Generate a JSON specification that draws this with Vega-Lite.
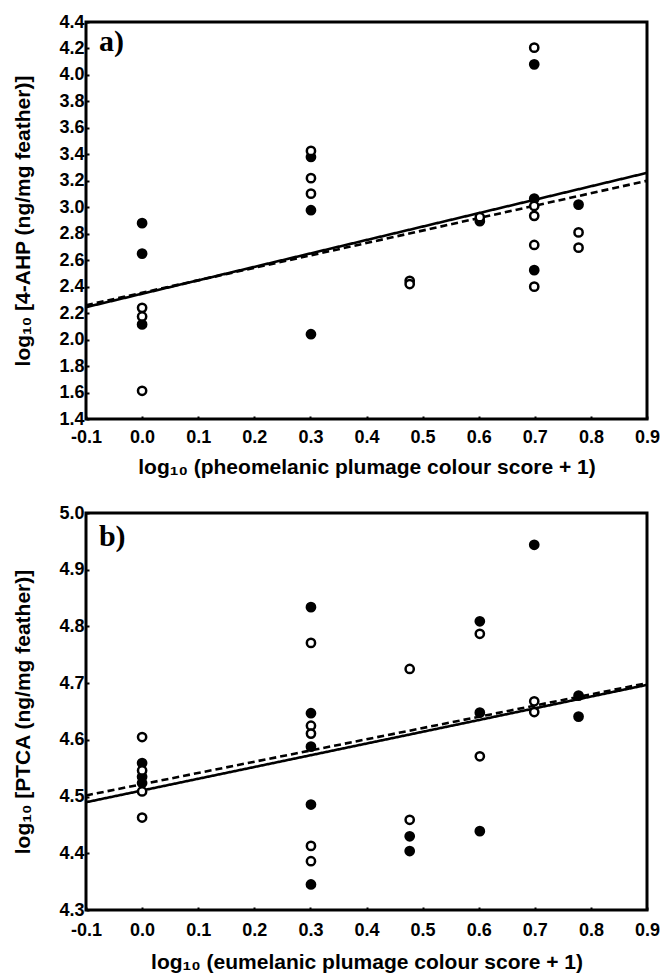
{
  "$schema": "https://vega.github.io/schema/vega-lite/v6.json",
  "background": "white",
  "padding": {"left": 11, "top": 11, "right": 10, "bottom": 5},
  "spacing": 23,
  "datasets": {
    "a_points": [
      {"x": 0, "y": 2.88, "group": "filled"},
      {"x": 0, "y": 2.65, "group": "filled"},
      {"x": 0, "y": 2.115, "group": "filled"},
      {"x": 0.301, "y": 3.38, "group": "filled"},
      {"x": 0.301, "y": 2.978, "group": "filled"},
      {"x": 0.301, "y": 2.041, "group": "filled"},
      {"x": 0.602, "y": 2.895, "group": "filled"},
      {"x": 0.699, "y": 4.08, "group": "filled"},
      {"x": 0.699, "y": 3.065, "group": "filled"},
      {"x": 0.699, "y": 2.525, "group": "filled"},
      {"x": 0.778, "y": 3.02, "group": "filled"},
      {"x": 0, "y": 2.24, "group": "open"},
      {"x": 0, "y": 2.175, "group": "open"},
      {"x": 0, "y": 1.613, "group": "open"},
      {"x": 0.301, "y": 3.426, "group": "open"},
      {"x": 0.301, "y": 3.22, "group": "open"},
      {"x": 0.301, "y": 3.103, "group": "open"},
      {"x": 0.477, "y": 2.444, "group": "open"},
      {"x": 0.477, "y": 2.42, "group": "open"},
      {"x": 0.602, "y": 2.925, "group": "open"},
      {"x": 0.699, "y": 4.206, "group": "open"},
      {"x": 0.699, "y": 3.01, "group": "open"},
      {"x": 0.699, "y": 2.935, "group": "open"},
      {"x": 0.699, "y": 2.715, "group": "open"},
      {"x": 0.699, "y": 2.4, "group": "open"},
      {"x": 0.778, "y": 2.81, "group": "open"},
      {"x": 0.778, "y": 2.695, "group": "open"}
    ],
    "a_lines": [
      {"x": -0.1, "y": 2.245, "fit": "solid"},
      {"x": 0.9, "y": 3.26, "fit": "solid"},
      {"x": -0.1, "y": 2.26, "fit": "dashed"},
      {"x": 0.9, "y": 3.2, "fit": "dashed"}
    ],
    "b_points": [
      {"x": 0, "y": 4.559, "group": "filled"},
      {"x": 0, "y": 4.535, "group": "filled"},
      {"x": 0, "y": 4.524, "group": "filled"},
      {"x": 0.301, "y": 4.834, "group": "filled"},
      {"x": 0.301, "y": 4.647, "group": "filled"},
      {"x": 0.301, "y": 4.588, "group": "filled"},
      {"x": 0.301, "y": 4.486, "group": "filled"},
      {"x": 0.301, "y": 4.345, "group": "filled"},
      {"x": 0.477, "y": 4.43, "group": "filled"},
      {"x": 0.477, "y": 4.404, "group": "filled"},
      {"x": 0.602, "y": 4.809, "group": "filled"},
      {"x": 0.602, "y": 4.648, "group": "filled"},
      {"x": 0.602, "y": 4.439, "group": "filled"},
      {"x": 0.699, "y": 4.944, "group": "filled"},
      {"x": 0.778, "y": 4.678, "group": "filled"},
      {"x": 0.778, "y": 4.641, "group": "filled"},
      {"x": 0, "y": 4.605, "group": "open"},
      {"x": 0, "y": 4.546, "group": "open"},
      {"x": 0, "y": 4.509, "group": "open"},
      {"x": 0, "y": 4.463, "group": "open"},
      {"x": 0.301, "y": 4.771, "group": "open"},
      {"x": 0.301, "y": 4.625, "group": "open"},
      {"x": 0.301, "y": 4.611, "group": "open"},
      {"x": 0.301, "y": 4.413, "group": "open"},
      {"x": 0.301, "y": 4.386, "group": "open"},
      {"x": 0.477, "y": 4.725, "group": "open"},
      {"x": 0.477, "y": 4.459, "group": "open"},
      {"x": 0.602, "y": 4.787, "group": "open"},
      {"x": 0.602, "y": 4.571, "group": "open"},
      {"x": 0.699, "y": 4.668, "group": "open"},
      {"x": 0.699, "y": 4.649, "group": "open"}
    ],
    "b_lines": [
      {"x": -0.1, "y": 4.49, "fit": "solid"},
      {"x": 0.9, "y": 4.697, "fit": "solid"},
      {"x": -0.1, "y": 4.502, "fit": "dashed"},
      {"x": 0.9, "y": 4.7, "fit": "dashed"}
    ]
  },
  "vconcat": [
    {
      "width": 561,
      "height": 397,
      "layer": [
        {
          "data": {"name": "a_lines"},
          "mark": {"type": "line", "color": "black", "strokeWidth": 2.6},
          "encoding": {
            "x": {"field": "x", "type": "quantitative", "scale": {"domain": [-0.1, 0.9], "nice": false, "zero": false},
              "axis": {"title": "log₁₀ (pheomelanic plumage colour score + 1)", "values": [-0.1, 0, 0.1, 0.2, 0.3, 0.4, 0.5, 0.6, 0.7, 0.8, 0.9], "labelExpr": "replace(format(datum.value, '.1f'), '−', '-')", "labelOverlap": false, "labelPadding": 12, "titlePadding": 10}},
            "y": {"field": "y", "type": "quantitative", "scale": {"domain": [1.4, 4.4], "nice": false, "zero": false},
              "axis": {"title": "log₁₀ [4-AHP (ng/mg feather)]", "values": [1.4, 1.6, 1.8, 2.0, 2.2, 2.4, 2.6, 2.8, 3.0, 3.2, 3.4, 3.6, 3.8, 4.0, 4.2, 4.4], "labelExpr": "format(datum.value, '.1f')", "labelOverlap": false, "labelSeparation": 0}},
            "strokeDash": {"field": "fit", "type": "nominal", "scale": {"domain": ["solid", "dashed"], "range": [[1, 0], [7, 4]]}, "legend": null}
          }
        },
        {
          "data": {"name": "a_points"},
          "mark": {"type": "point", "shape": "circle", "filled": true, "stroke": "black", "strokeWidth": 2.5, "size": 68, "opacity": 1},
          "encoding": {
            "x": {"field": "x", "type": "quantitative", "scale": {"domain": [-0.1, 0.9], "nice": false, "zero": false},
              "axis": {"title": "log₁₀ (pheomelanic plumage colour score + 1)", "values": [-0.1, 0, 0.1, 0.2, 0.3, 0.4, 0.5, 0.6, 0.7, 0.8, 0.9], "labelExpr": "replace(format(datum.value, '.1f'), '−', '-')", "labelOverlap": false, "labelPadding": 12, "titlePadding": 10}},
            "y": {"field": "y", "type": "quantitative", "scale": {"domain": [1.4, 4.4], "nice": false, "zero": false},
              "axis": {"title": "log₁₀ [4-AHP (ng/mg feather)]", "values": [1.4, 1.6, 1.8, 2.0, 2.2, 2.4, 2.6, 2.8, 3.0, 3.2, 3.4, 3.6, 3.8, 4.0, 4.2, 4.4], "labelExpr": "format(datum.value, '.1f')", "labelOverlap": false, "labelSeparation": 0}},
            "fill": {"field": "group", "type": "nominal", "scale": {"domain": ["filled", "open"], "range": ["black", "white"]}, "legend": null}
          }
        },
        {
          "data": {"values": [{"label": "a)"}]},
          "mark": {"type": "text", "font": "Liberation Serif", "fontWeight": "bold", "fontSize": 30, "align": "left", "baseline": "alphabetic", "color": "black"},
          "encoding": {
            "x": {"datum": -0.077, "type": "quantitative", "scale": {"domain": [-0.1, 0.9], "nice": false, "zero": false},
              "axis": {"title": "log₁₀ (pheomelanic plumage colour score + 1)", "values": [-0.1, 0, 0.1, 0.2, 0.3, 0.4, 0.5, 0.6, 0.7, 0.8, 0.9], "labelExpr": "replace(format(datum.value, '.1f'), '−', '-')", "labelOverlap": false, "labelPadding": 12, "titlePadding": 10}},
            "y": {"datum": 4.18, "type": "quantitative", "scale": {"domain": [1.4, 4.4], "nice": false, "zero": false},
              "axis": {"title": "log₁₀ [4-AHP (ng/mg feather)]", "values": [1.4, 1.6, 1.8, 2.0, 2.2, 2.4, 2.6, 2.8, 3.0, 3.2, 3.4, 3.6, 3.8, 4.0, 4.2, 4.4], "labelExpr": "format(datum.value, '.1f')", "labelOverlap": false, "labelSeparation": 0}},
            "text": {"field": "label"}
          }
        }
      ]
    },
    {
      "width": 561,
      "height": 397,
      "layer": [
        {
          "data": {"name": "b_lines"},
          "mark": {"type": "line", "color": "black", "strokeWidth": 2.6},
          "encoding": {
            "x": {"field": "x", "type": "quantitative", "scale": {"domain": [-0.1, 0.9], "nice": false, "zero": false},
              "axis": {"title": "log₁₀ (eumelanic plumage colour score + 1)", "values": [-0.1, 0, 0.1, 0.2, 0.3, 0.4, 0.5, 0.6, 0.7, 0.8, 0.9], "labelExpr": "replace(format(datum.value, '.1f'), '−', '-')", "labelOverlap": false, "labelPadding": 14, "titlePadding": 12}},
            "y": {"field": "y", "type": "quantitative", "scale": {"domain": [4.3, 5.0], "nice": false, "zero": false},
              "axis": {"title": "log₁₀ [PTCA (ng/mg feather)]", "values": [4.3, 4.4, 4.5, 4.6, 4.7, 4.8, 4.9, 5.0], "labelExpr": "format(datum.value, '.1f')", "labelOverlap": false, "labelSeparation": 0}},
            "strokeDash": {"field": "fit", "type": "nominal", "scale": {"domain": ["solid", "dashed"], "range": [[1, 0], [7, 4]]}, "legend": null}
          }
        },
        {
          "data": {"name": "b_points"},
          "mark": {"type": "point", "shape": "circle", "filled": true, "stroke": "black", "strokeWidth": 2.5, "size": 68, "opacity": 1},
          "encoding": {
            "x": {"field": "x", "type": "quantitative", "scale": {"domain": [-0.1, 0.9], "nice": false, "zero": false},
              "axis": {"title": "log₁₀ (eumelanic plumage colour score + 1)", "values": [-0.1, 0, 0.1, 0.2, 0.3, 0.4, 0.5, 0.6, 0.7, 0.8, 0.9], "labelExpr": "replace(format(datum.value, '.1f'), '−', '-')", "labelOverlap": false, "labelPadding": 14, "titlePadding": 12}},
            "y": {"field": "y", "type": "quantitative", "scale": {"domain": [4.3, 5.0], "nice": false, "zero": false},
              "axis": {"title": "log₁₀ [PTCA (ng/mg feather)]", "values": [4.3, 4.4, 4.5, 4.6, 4.7, 4.8, 4.9, 5.0], "labelExpr": "format(datum.value, '.1f')", "labelOverlap": false, "labelSeparation": 0}},
            "fill": {"field": "group", "type": "nominal", "scale": {"domain": ["filled", "open"], "range": ["black", "white"]}, "legend": null}
          }
        },
        {
          "data": {"values": [{"label": "b)"}]},
          "mark": {"type": "text", "font": "Liberation Serif", "fontWeight": "bold", "fontSize": 30, "align": "left", "baseline": "alphabetic", "color": "black"},
          "encoding": {
            "x": {"datum": -0.077, "type": "quantitative", "scale": {"domain": [-0.1, 0.9], "nice": false, "zero": false},
              "axis": {"title": "log₁₀ (eumelanic plumage colour score + 1)", "values": [-0.1, 0, 0.1, 0.2, 0.3, 0.4, 0.5, 0.6, 0.7, 0.8, 0.9], "labelExpr": "replace(format(datum.value, '.1f'), '−', '-')", "labelOverlap": false, "labelPadding": 14, "titlePadding": 12}},
            "y": {"datum": 4.942, "type": "quantitative", "scale": {"domain": [4.3, 5.0], "nice": false, "zero": false},
              "axis": {"title": "log₁₀ [PTCA (ng/mg feather)]", "values": [4.3, 4.4, 4.5, 4.6, 4.7, 4.8, 4.9, 5.0], "labelExpr": "format(datum.value, '.1f')", "labelOverlap": false, "labelSeparation": 0}},
            "text": {"field": "label"}
          }
        }
      ]
    }
  ],
  "config": {
    "view": {"stroke": "black", "strokeWidth": 3},
    "axis": {
      "domain": false,
      "grid": false,
      "ticks": true,
      "tickSize": -3,
      "tickWidth": 2,
      "tickColor": "black",
      "labelFont": "Liberation Sans",
      "labelFontWeight": "bold",
      "labelFontSize": 18,
      "labelColor": "black",
      "labelFlush": false,
      "labelOverlap": false,
      "titleFont": "Liberation Sans",
      "titleFontWeight": "bold",
      "titleFontSize": 21,
      "titleColor": "black"
    },
    "axisY": {"labelPadding": 5, "titlePadding": 25}
  }
}
